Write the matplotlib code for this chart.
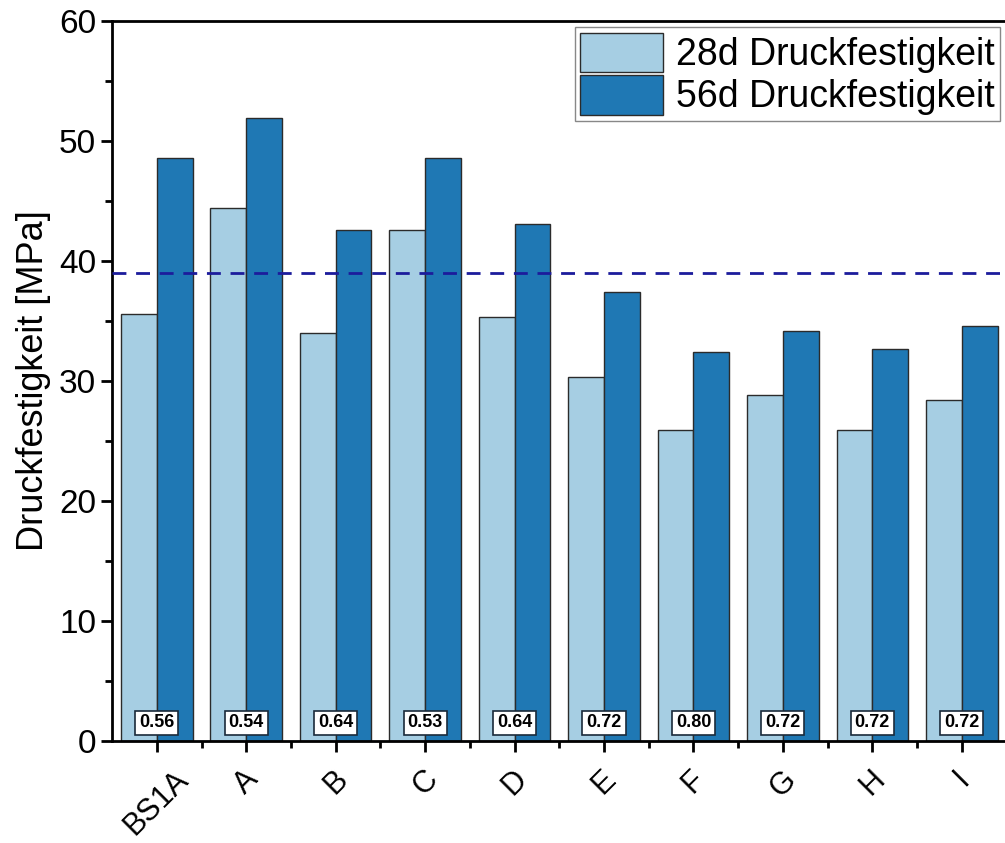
import numpy as np
import matplotlib
matplotlib.use('Agg')
import matplotlib.pyplot as plt
from matplotlib.ticker import MultipleLocator

categories = ['BS1A', 'A', 'B', 'C', 'D', 'E', 'F', 'G', 'H', 'I']
strength_28d = [35.6, 44.4, 34.0, 42.6, 35.3, 30.3, 25.9, 28.8, 25.9, 28.4]
strength_56d = [48.6, 51.9, 42.6, 48.6, 43.1, 37.4, 32.4, 34.2, 32.7, 34.6]
wz_ratio = ['0.56', '0.54', '0.64', '0.53', '0.64', '0.72', '0.80', '0.72', '0.72', '0.72']
target_line = 39.0

plt.rcParams['font.family'] = ['Liberation Sans', 'DejaVu Sans']

fig = plt.figure(figsize=(10.05, 8.43), dpi=100)
ax = fig.add_axes([0.1115, 0.121, 0.890, 0.854])

x = np.arange(len(categories))
w = 0.4
ax.bar(x - w / 2, strength_28d, w, color='#a6cee3', edgecolor='#2b2b2b',
       linewidth=1.0, label='28d Druckfestigkeit', zorder=2)
ax.bar(x + w / 2, strength_56d, w, color='#1f78b4', edgecolor='#2b2b2b',
       linewidth=1.0, label='56d Druckfestigkeit', zorder=2)

ax.axhline(target_line, color='#1c1c9c', linestyle=(0, (5, 3.5)), linewidth=2, zorder=3)

for xi, r in zip(x, wz_ratio):
    ax.text(xi, 1.5, r, ha='center', va='center', fontsize=13, fontweight='bold',
            zorder=4,
            bbox=dict(boxstyle='square,pad=0.22', facecolor='white',
                      edgecolor='#1a2a3a', linewidth=1.2))

ax.set_xlim(-0.5, 9.5)
ax.set_ylim(0, 60)
ax.set_xticks(x)
ax.set_xticklabels(categories, rotation=45, ha='center')
ax.set_xticks(x[:-1] + 0.5, minor=True)
ax.yaxis.set_major_locator(MultipleLocator(10))
ax.yaxis.set_minor_locator(MultipleLocator(5))
ax.tick_params(axis='both', which='major', direction='out', length=8, width=2,
               labelsize=24)
ax.tick_params(axis='x', which='major', labelsize=22, pad=9)
ax.tick_params(axis='both', which='minor', direction='out', length=5, width=2)
for s in ax.spines.values():
    s.set_linewidth(2)

ax.set_ylabel('Druckfestigkeit [MPa]', fontsize=26, labelpad=6)

leg = ax.legend(loc='upper right', fontsize=27, handlelength=2.2, handleheight=1.25,
                handletextpad=0.35, borderpad=0.15, labelspacing=0.05,
                borderaxespad=0, fancybox=False, framealpha=1, edgecolor='#888888',
                bbox_to_anchor=(0.993, 0.9917))
leg.get_frame().set_linewidth(1)

fig.savefig('out.png', dpi=100)
